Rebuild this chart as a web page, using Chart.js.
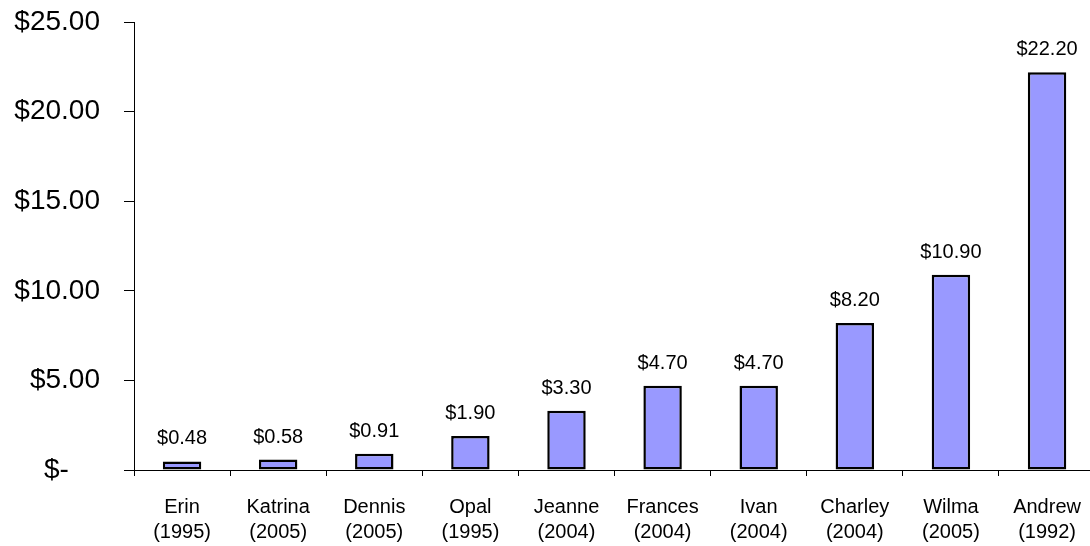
<!DOCTYPE html>
<html>
<head>
<meta charset="utf-8">
<script src="https://cdn.jsdelivr.net/npm/chart.js@4"></script>
<style>
  html, body { margin: 0; padding: 0; background: #fff; overflow: hidden; }
  #wrap { width: 1100px; height: 546px; position: relative; }
</style>
</head>
<body>
<div id="wrap"><canvas id="lossChart"></canvas></div>
<script>
const stormNames = ["Erin", "Katrina", "Dennis", "Opal", "Jeanne", "Frances", "Ivan", "Charley", "Wilma", "Andrew"];
const stormYears = ["1995", "2005", "2005", "1995", "2004", "2004", "2004", "2004", "2005", "1992"];
const losses = [0.48, 0.58, 0.91, 1.9, 3.3, 4.7, 4.7, 8.2, 10.9, 22.2];

const FONT = "'Liberation Sans', Arial, sans-serif";

const money = (v) => "$" + v.toFixed(2);

// draws the value above each bar
const barValues = {
  id: "barValues",
  afterDatasetsDraw(chart) {
    const ctx = chart.ctx;
    const meta = chart.getDatasetMeta(0);
    ctx.save();
    ctx.font = "20px " + FONT;
    ctx.fillStyle = "#000";
    ctx.textAlign = "center";
    ctx.textBaseline = "alphabetic";
    meta.data.forEach((bar, i) => {
      ctx.fillText(money(losses[i]), bar.x, bar.y - 17);
    });
    ctx.restore();
  }
};

new Chart(document.getElementById("lossChart"), {
  type: "bar",
  data: {
    labels: stormNames.map((n, i) => [n, "(" + stormYears[i] + ")"]),
    datasets: [{
      data: losses,
      backgroundColor: "#9999ff",
      borderColor: "#000",
      borderWidth: 2.5,
      borderSkipped: false,
      barPercentage: 0.4,
      categoryPercentage: 1.0
    }]
  },
  options: {
    responsive: true,
    maintainAspectRatio: false,
    animation: false,
    layout: { padding: { top: 22, right: 1, left: 0, bottom: 0 } },
    plugins: {
      legend: { display: false },
      tooltip: { enabled: false }
    },
    scales: {
      x: {
        afterFit(scale) { scale.height = 76; },
        grid: { offset: true, drawOnChartArea: false, tickLength: 6, color: "#000" },
        border: { color: "#000", width: 1 },
        ticks: {
          color: "#000",
          font: { family: FONT, size: 20, lineHeight: 1.25 },
          padding: 19,
          maxRotation: 0,
          autoSkip: false
        }
      },
      y: {
        min: 0,
        max: 25,
        afterFit(scale) {
          scale.width = 134;
          scale.paddingTop = 0;
          scale.paddingBottom = 0;
        },
        grid: { drawOnChartArea: false, tickLength: 10, color: "#000" },
        border: { color: "#000", width: 1 },
        ticks: {
          stepSize: 5,
          color: "#000",
          padding: 24,
          font: { family: FONT, size: 28 },
          callback: (v) => (v === 0 ? "$-    " : money(v))
        }
      }
    }
  },
  plugins: [barValues]
});
</script>
</body>
</html>
